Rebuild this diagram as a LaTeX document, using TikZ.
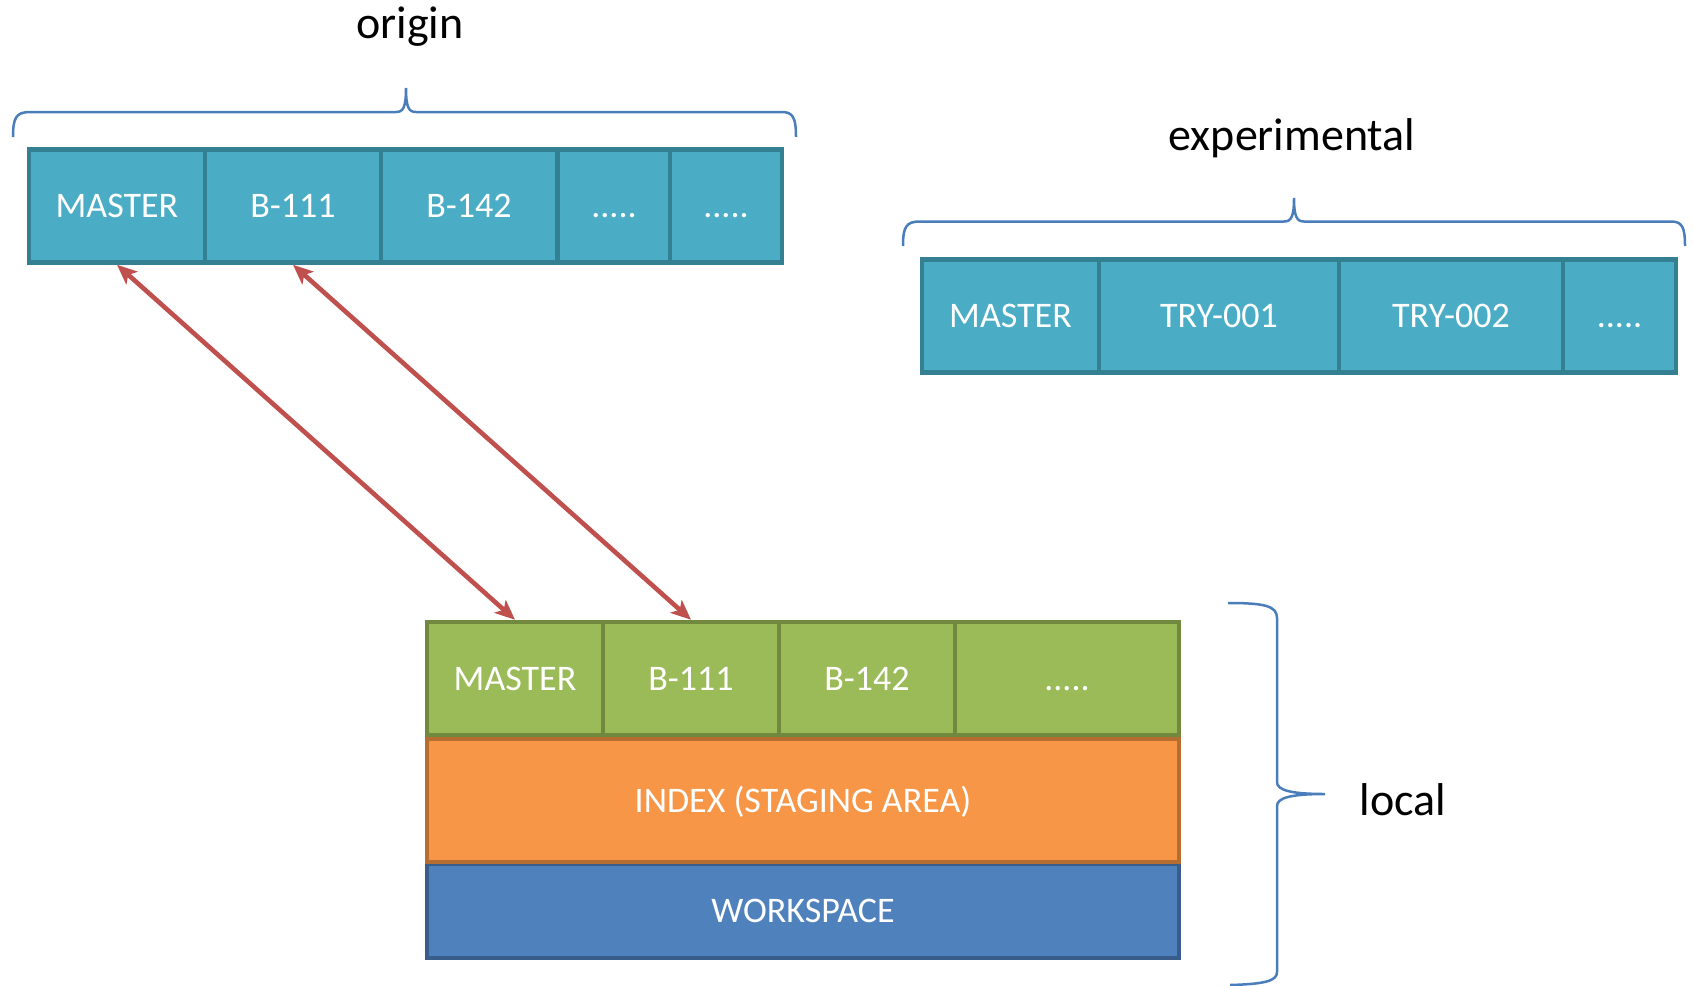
\documentclass[tikz,border=0pt]{standalone}
\usepackage{fontspec}
\setmainfont{Carlito}
\usetikzlibrary{arrows.meta}
\definecolor{tealfill}{HTML}{4BACC6}
\definecolor{tealline}{HTML}{357F92}
\definecolor{greenfill}{HTML}{9BBB59}
\definecolor{greenline}{HTML}{71893F}
\definecolor{orangefill}{HTML}{F79646}
\definecolor{orangeline}{HTML}{B66D31}
\definecolor{bluefill}{HTML}{4F81BD}
\definecolor{blueline}{HTML}{385D8A}
\definecolor{bracecol}{HTML}{4A7EBB}
\definecolor{arrowred}{HTML}{C0504D}
\tikzset{
  cellbox/.style={draw, line width=4.5pt, rectangle, inner sep=0pt,
    text height=23pt, text depth=0pt,
    text=white, font=\fontsize{36}{40}\selectfont},
  tealcell/.style={cellbox, fill=tealfill, draw=tealline, minimum height=113pt},
  greencell/.style={cellbox, fill=greenfill, draw=greenline, minimum height=113pt},
  orangecell/.style={cellbox, fill=orangefill, draw=orangeline},
  bluecell/.style={cellbox, fill=bluefill, draw=blueline},
  bracepath/.style={draw=bracecol, line width=2.5pt},
  biglabel/.style={font=\fontsize{46}{50}\selectfont, text=black},
  link/.style={draw=arrowred, line width=4.6pt,
    {Stealth[length=20pt,width=17pt,inset=5pt]}-{Stealth[length=20pt,width=17pt,inset=5pt]}}
}
\begin{document}
\begin{tikzpicture}[x=1pt,y=-1pt]
\useasboundingbox (0,0) rectangle (1694,985);
% origin
\node[biglabel] (originlbl) at (410,27) {origin};
\path[bracepath] (13,137) .. controls (13,118) and (16,112) .. (30,112) -- (396,112)
  .. controls (403,112) and (406,108) .. (406,88)
  .. controls (406,108) and (409,112) .. (416,112) -- (782,112)
  .. controls (793,112) and (796,118) .. (796,137);
\node[tealcell, minimum width=176pt] (o1) at (117,206) {MASTER};
\node[tealcell, minimum width=176pt] (o2) at (293,206) {B-111};
\node[tealcell, minimum width=176pt] (o3) at (469,206) {B-142};
\node[tealcell, minimum width=112pt] (o4) at (614,206) {.....};
\node[tealcell, minimum width=112pt] (o5) at (726,206) {.....};
% experimental
\node[biglabel] (explbl) at (1292,138) {experimental};
\path[bracepath] (903,246) .. controls (903,227) and (906,221.5) .. (920,221.5) -- (1284,221.5)
  .. controls (1291,221.5) and (1294,217) .. (1294,198)
  .. controls (1294,217) and (1297,221.5) .. (1304,221.5) -- (1671,221.5)
  .. controls (1682,221.5) and (1685,227) .. (1685,246);
\node[tealcell, minimum width=177pt] (e1) at (1010.5,316) {MASTER};
\node[tealcell, minimum width=240pt] (e2) at (1219,316) {TRY-001};
\node[tealcell, minimum width=224pt] (e3) at (1451,316) {TRY-002};
\node[tealcell, minimum width=113pt] (e4) at (1619.5,316) {.....};
% local
\node[bluecell, minimum width=752pt, minimum height=94pt] (ws) at (803,911) {WORKSPACE};
\node[orangecell, minimum width=752pt, minimum height=123pt] (idx) at (803,800.5) {INDEX (STAGING AREA)};
\node[greencell, minimum width=176pt] (g1) at (515,678.5) {MASTER};
\node[greencell, minimum width=176pt] (g2) at (691,678.5) {B-111};
\node[greencell, minimum width=176pt] (g3) at (867,678.5) {B-142};
\node[greencell, minimum width=224pt] (g4) at (1067,678.5) {.....};
\path[bracepath] (1228,603) .. controls (1265,603) and (1277,606) .. (1277,618) -- (1277,782)
  .. controls (1277,790) and (1290,794) .. (1325,794)
  .. controls (1290,794) and (1277,798) .. (1277,806) -- (1277,972)
  .. controls (1277,981) and (1265,984) .. (1230,985);
\node[biglabel] (locallbl) at (1403,800) {local};
% arrows
\draw[link] (o1.south) -- (g1.north);
\draw[link] (o2.south) -- (g2.north);
\end{tikzpicture}
\end{document}
